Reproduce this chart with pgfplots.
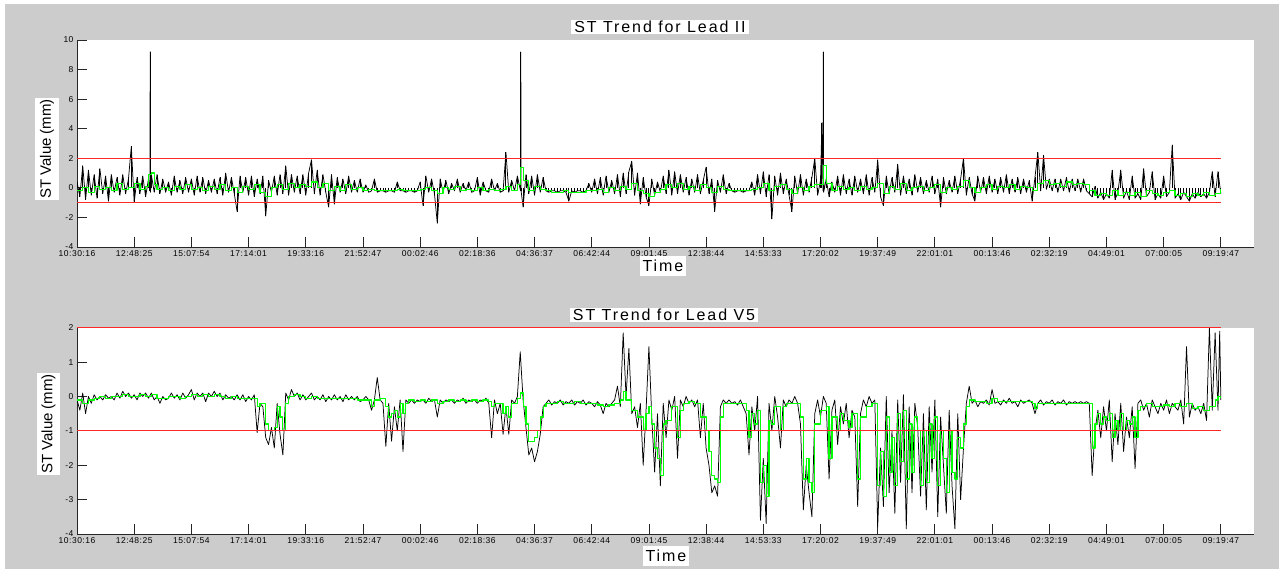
\documentclass[border=0pt]{standalone}
\usepackage{fontspec}
\setmainfont{Liberation Sans}
\newfontfamily\spacedfont[LetterSpace=12]{Liberation Sans}
\newfontfamily\tickfont[LetterSpace=6]{Liberation Sans}
\usepackage{pgfplots}
\usepackage{pgfplotstable}
\pgfplotsset{compat=1.18}
\definecolor{figgray}{RGB}{204,204,204}
\definecolor{stgreen}{RGB}{0,255,0}
\definecolor{stred}{RGB}{255,40,40}

% raw ST samples, Lead II
\pgfplotstableread[row sep=\\]{
x y\\
0.00 0.4\\ 0.05 -0.6\\ 0.10 1.5\\ 0.15 -0.8\\ 0.20 1.2\\ 0.25 -0.5\\ 0.30 0.9\\ 0.35 -0.7\\ 0.40 1.3\\ 0.45 -0.4\\
0.50 0.8\\ 0.55 -0.9\\ 0.60 0.9\\ 0.65 -0.3\\ 0.70 0.7\\ 0.75 -0.5\\ 0.80 0.9\\ 0.85 -0.4\\ 0.90 0.6\\ 0.95 2.8\\
1.00 -1.0\\ 1.05 0.7\\ 1.10 -0.4\\ 1.15 0.8\\ 1.20 -0.6\\ 1.25 0.6\\ 1.275 -0.2\\ 1.28 9.2\\ 1.285 -0.3\\ 1.30 0.9\\ 1.35 -0.3\\ 1.40 0.9\\ 1.45 -0.4\\
1.50 0.6\\ 1.55 -0.3\\ 1.60 0.4\\ 1.65 -0.5\\ 1.70 0.8\\ 1.75 -0.3\\ 1.80 0.5\\ 1.85 -0.4\\ 1.90 0.7\\ 1.95 -0.3\\
2.00 0.6\\ 2.05 -0.5\\ 2.10 0.8\\ 2.15 -0.3\\ 2.20 0.7\\ 2.25 -0.4\\ 2.30 0.5\\ 2.35 -0.3\\ 2.40 0.6\\ 2.45 -0.4\\
2.50 0.7\\ 2.55 -0.5\\ 2.60 1.0\\ 2.65 -0.3\\ 2.70 0.7\\ 2.75 -0.4\\ 2.80 -1.6\\ 2.85 0.8\\ 2.90 -0.3\\ 2.95 0.7\\
3.00 -0.5\\ 3.05 0.8\\ 3.10 -0.6\\ 3.15 0.6\\ 3.20 -0.4\\ 3.25 0.8\\ 3.30 -1.9\\ 3.35 0.5\\ 3.40 -0.3\\ 3.45 0.8\\
3.50 -0.5\\ 3.55 0.9\\ 3.60 -0.4\\ 3.65 1.5\\ 3.70 -0.5\\ 3.75 0.9\\ 3.80 -0.3\\ 3.85 0.8\\ 3.90 -0.4\\ 3.95 0.9\\
4.00 -0.5\\ 4.05 1.0\\ 4.10 1.9\\ 4.15 -0.4\\ 4.20 1.2\\ 4.25 -0.5\\ 4.30 0.9\\ 4.35 -0.3\\ 4.40 -1.3\\ 4.45 0.9\\
4.50 -1.1\\ 4.55 0.7\\ 4.60 -0.3\\ 4.65 0.6\\ 4.70 -0.4\\ 4.75 0.8\\ 4.80 -0.3\\ 4.85 0.5\\ 4.90 -0.3\\ 4.95 0.6\\
5.00 -0.3\\ 5.05 0.2\\ 5.10 -0.3\\ 5.15 -0.2\\ 5.20 0.6\\ 5.25 -0.3\\ 5.30 -0.2\\ 5.35 -0.2\\ 5.40 -0.3\\ 5.45 -0.2\\
5.50 -0.2\\ 5.55 -0.3\\ 5.60 0.4\\ 5.65 -0.2\\ 5.70 -0.2\\ 5.75 -0.3\\ 5.80 -0.2\\ 5.85 -0.2\\ 5.90 -0.3\\ 5.95 -0.2\\
6.00 0.4\\ 6.05 -1.2\\ 6.10 0.8\\ 6.15 -0.3\\ 6.20 0.6\\ 6.25 -0.4\\ 6.30 -2.4\\ 6.35 0.6\\ 6.40 -0.3\\ 6.45 0.5\\
6.50 -0.4\\ 6.55 0.3\\ 6.60 -0.2\\ 6.65 0.6\\ 6.70 -0.3\\ 6.75 0.3\\ 6.80 -0.2\\ 6.85 0.4\\ 6.90 -0.3\\ 6.95 -0.2\\
7.00 0.7\\ 7.05 -0.5\\ 7.10 0.4\\ 7.15 -0.2\\ 7.20 -0.3\\ 7.25 0.6\\ 7.30 -0.2\\ 7.35 0.3\\ 7.40 -0.3\\ 7.45 -0.2\\
7.50 2.4\\ 7.55 -0.3\\ 7.60 0.5\\ 7.65 -0.2\\ 7.70 0.8\\ 7.755 -0.2\\ 7.76 9.2\\ 7.765 -0.2\\ 7.80 -1.3\\ 7.85 0.9\\ 7.90 -0.4\\ 7.95 0.8\\
8.00 -0.5\\ 8.05 0.9\\ 8.10 -0.3\\ 8.15 0.7\\ 8.20 -0.2\\ 8.25 -0.3\\ 8.30 -0.2\\ 8.35 -0.2\\ 8.40 -0.3\\ 8.45 -0.2\\
8.50 -0.2\\ 8.55 -0.3\\ 8.60 -0.9\\ 8.65 -0.2\\ 8.70 -0.3\\ 8.75 -0.2\\ 8.80 -0.2\\ 8.85 -0.3\\ 8.90 -0.2\\ 8.95 0.3\\
9.00 -0.3\\ 9.05 0.6\\ 9.10 -0.4\\ 9.15 0.7\\ 9.20 -0.5\\ 9.25 0.8\\ 9.30 -0.3\\ 9.35 0.5\\ 9.40 -0.4\\ 9.45 0.9\\
9.50 -0.6\\ 9.55 1.0\\ 9.60 -0.4\\ 9.65 1.1\\ 9.70 1.8\\ 9.75 -0.5\\ 9.80 1.0\\ 9.85 -1.1\\ 9.90 0.7\\ 9.95 -0.6\\
10.00 -1.2\\ 10.05 0.6\\ 10.10 -0.5\\ 10.15 0.4\\ 10.20 -0.3\\ 10.25 0.8\\ 10.30 -0.4\\ 10.35 1.2\\ 10.40 -0.5\\ 10.45 1.1\\
10.50 -0.4\\ 10.55 0.9\\ 10.60 -0.3\\ 10.65 0.7\\ 10.70 -0.5\\ 10.75 0.6\\ 10.80 -0.3\\ 10.85 0.9\\ 10.90 -0.4\\ 10.95 0.5\\
11.00 1.4\\ 11.05 -0.4\\ 11.10 0.6\\ 11.15 -1.6\\ 11.20 0.5\\ 11.25 -0.3\\ 11.30 0.9\\ 11.35 -0.4\\ 11.40 0.3\\ 11.45 -0.2\\
11.50 -0.3\\ 11.55 -0.2\\ 11.60 -0.2\\ 11.65 -0.3\\ 11.70 -0.2\\ 11.75 -0.2\\ 11.80 0.4\\ 11.85 -0.5\\ 11.90 0.9\\ 11.95 -0.4\\
12.00 1.1\\ 12.05 -0.6\\ 12.10 0.9\\ 12.15 -2.1\\ 12.20 0.8\\ 12.25 -0.5\\ 12.30 1.0\\ 12.35 -0.4\\ 12.40 0.6\\ 12.45 -0.5\\
12.50 -1.6\\ 12.55 0.8\\ 12.60 -0.4\\ 12.65 0.9\\ 12.70 -0.5\\ 12.75 0.6\\ 12.80 -0.3\\ 12.85 0.7\\ 12.90 2.0\\ 12.95 -0.5\\
13.00 0.5\\ 13.025 4.4\\ 13.045 -0.2\\ 13.05 9.2\\ 13.055 -0.3\\ 13.10 0.6\\ 13.15 -0.6\\ 13.20 0.4\\ 13.25 -0.3\\ 13.30 0.8\\ 13.35 -0.5\\ 13.40 0.9\\ 13.45 -0.4\\
13.50 0.6\\ 13.55 -0.5\\ 13.60 0.8\\ 13.65 -0.3\\ 13.70 0.6\\ 13.75 -0.4\\ 13.80 0.9\\ 13.85 -0.5\\ 13.90 0.7\\ 13.95 -0.3\\
14.00 1.9\\ 14.05 -0.6\\ 14.10 -1.2\\ 14.15 0.8\\ 14.20 -0.4\\ 14.25 0.7\\ 14.30 -0.3\\ 14.35 1.6\\ 14.40 -0.5\\ 14.45 0.8\\
14.50 -0.4\\ 14.55 0.6\\ 14.60 -0.5\\ 14.65 0.9\\ 14.70 -0.3\\ 14.75 0.7\\ 14.80 -0.4\\ 14.85 0.5\\ 14.90 -0.3\\ 14.95 0.8\\
15.00 -0.4\\ 15.05 0.6\\ 15.10 -1.3\\ 15.15 0.7\\ 15.20 -0.4\\ 15.25 0.5\\ 15.30 -0.3\\ 15.35 0.8\\ 15.40 -0.4\\ 15.45 0.6\\
15.50 2.0\\ 15.55 -0.5\\ 15.60 0.7\\ 15.65 -0.4\\ 15.70 -0.9\\ 15.75 0.8\\ 15.80 -0.3\\ 15.85 0.7\\ 15.90 -0.4\\ 15.95 0.8\\
16.00 -0.3\\ 16.05 0.6\\ 16.10 -0.4\\ 16.15 0.7\\ 16.20 -0.3\\ 16.25 0.9\\ 16.30 -0.4\\ 16.35 0.6\\ 16.40 -0.3\\ 16.45 0.7\\
16.50 -0.4\\ 16.55 0.6\\ 16.60 -0.3\\ 16.65 0.5\\ 16.70 -0.9\\ 16.75 0.7\\ 16.80 2.4\\ 16.85 -0.2\\ 16.90 2.2\\ 16.95 -0.1\\
17.00 0.6\\ 17.05 -0.2\\ 17.10 0.6\\ 17.15 -0.3\\ 17.20 0.6\\ 17.25 -0.2\\ 17.30 0.7\\ 17.35 -0.3\\ 17.40 0.6\\ 17.45 -0.2\\
17.50 0.6\\ 17.55 -0.3\\ 17.60 0.6\\ 17.65 -0.2\\ 17.70 -0.4\\ 17.75 -0.6\\ 17.80 0.1\\ 17.85 -0.7\\ 17.90 -0.3\\ 17.95 -0.8\\
18.00 -0.4\\ 18.05 -0.7\\ 18.10 1.2\\ 18.15 -0.8\\ 18.20 -0.3\\ 18.25 1.2\\ 18.30 -0.7\\ 18.35 -0.2\\ 18.40 -0.8\\ 18.45 0.8\\
18.50 -0.7\\ 18.55 -0.4\\ 18.60 -0.8\\ 18.65 1.3\\ 18.70 -0.6\\ 18.75 -0.3\\ 18.80 1.1\\ 18.85 -0.8\\ 18.90 -0.4\\ 18.95 -0.7\\
19.00 0.8\\ 19.05 -0.6\\ 19.10 -0.3\\ 19.15 2.9\\ 19.20 -0.7\\ 19.25 -0.4\\ 19.30 -0.8\\ 19.35 -0.3\\ 19.40 -0.6\\ 19.45 -0.9\\
19.50 -0.4\\ 19.55 -0.7\\ 19.60 -0.3\\ 19.65 -0.6\\ 19.70 -0.4\\ 19.75 -0.7\\ 19.80 -0.3\\ 19.85 1.1\\ 19.90 -0.6\\ 19.95 1.1\\ 20.00 -0.4\\
}\leadIIraw

% raw ST samples, Lead V5
\pgfplotstableread[row sep=\\]{
x y\\
0.00 -0.1\\ 0.05 -0.4\\ 0.10 0.1\\ 0.15 -0.5\\ 0.20 0.0\\ 0.25 -0.2\\ 0.30 0.05\\ 0.35 -0.1\\ 0.40 0.0\\ 0.45 -0.1\\
0.50 0.05\\ 0.55 -0.05\\ 0.60 0.0\\ 0.65 -0.1\\ 0.70 0.1\\ 0.75 -0.05\\ 0.80 0.15\\ 0.85 0.0\\ 0.90 0.1\\ 0.95 -0.05\\
1.00 0.05\\ 1.05 -0.1\\ 1.10 0.1\\ 1.15 0.0\\ 1.20 0.1\\ 1.25 -0.05\\ 1.30 0.1\\ 1.35 -0.1\\ 1.40 0.0\\ 1.45 -0.2\\
1.50 0.0\\ 1.55 -0.1\\ 1.60 -0.05\\ 1.65 0.1\\ 1.70 -0.05\\ 1.75 0.05\\ 1.80 -0.1\\ 1.85 0.1\\ 1.90 -0.05\\ 1.95 0.05\\
2.00 0.2\\ 2.05 -0.1\\ 2.10 0.1\\ 2.15 0.0\\ 2.20 0.1\\ 2.25 -0.15\\ 2.30 0.1\\ 2.35 0.0\\ 2.40 0.15\\ 2.45 0.0\\
2.50 0.1\\ 2.55 -0.1\\ 2.60 0.05\\ 2.65 -0.05\\ 2.70 0.0\\ 2.75 -0.1\\ 2.80 0.05\\ 2.85 -0.1\\ 2.90 0.05\\ 2.95 -0.15\\
3.00 0.0\\ 3.05 -0.1\\ 3.10 0.05\\ 3.15 -1.05\\ 3.20 -0.2\\ 3.25 -0.3\\ 3.30 -1.2\\ 3.35 -1.4\\ 3.40 -0.9\\ 3.45 -1.5\\
3.50 -0.2\\ 3.55 -1.1\\ 3.60 -1.7\\ 3.65 0.1\\ 3.70 -0.1\\ 3.75 0.2\\ 3.80 0.0\\ 3.85 0.1\\ 3.90 -0.1\\ 3.95 0.05\\
4.00 -0.1\\ 4.05 0.0\\ 4.10 0.1\\ 4.15 -0.1\\ 4.20 0.0\\ 4.25 -0.1\\ 4.30 0.05\\ 4.35 -0.15\\ 4.40 0.0\\ 4.45 -0.1\\
4.50 0.05\\ 4.55 -0.1\\ 4.60 0.0\\ 4.65 -0.15\\ 4.70 0.05\\ 4.75 -0.1\\ 4.80 0.0\\ 4.85 -0.1\\ 4.90 0.0\\ 4.95 -0.15\\
5.00 -0.1\\ 5.05 0.0\\ 5.10 -0.1\\ 5.15 -0.4\\ 5.20 -0.1\\ 5.25 0.55\\ 5.30 -0.1\\ 5.35 -0.2\\ 5.40 -1.45\\ 5.45 -0.2\\
5.50 -1.3\\ 5.55 -0.3\\ 5.60 -1.0\\ 5.65 -0.1\\ 5.70 -1.6\\ 5.75 -0.1\\ 5.80 -0.2\\ 5.85 -0.1\\ 5.90 -0.2\\ 5.95 -0.1\\
6.00 -0.15\\ 6.05 -0.1\\ 6.10 -0.2\\ 6.15 -0.05\\ 6.20 -0.15\\ 6.25 -0.1\\ 6.30 -0.6\\ 6.35 -0.1\\ 6.40 -0.2\\ 6.45 -0.1\\
6.50 -0.15\\ 6.55 -0.1\\ 6.60 -0.2\\ 6.65 -0.1\\ 6.70 -0.15\\ 6.75 -0.05\\ 6.80 -0.2\\ 6.85 -0.1\\ 6.90 -0.15\\ 6.95 -0.1\\
7.00 -0.2\\ 7.05 -0.1\\ 7.10 -0.15\\ 7.15 -0.05\\ 7.20 -0.2\\ 7.25 -1.2\\ 7.30 -0.1\\ 7.35 -0.5\\ 7.40 -0.2\\ 7.45 -1.1\\
7.50 -0.3\\ 7.55 -1.1\\ 7.60 -0.1\\ 7.65 -0.2\\ 7.70 0.0\\ 7.75 1.3\\ 7.80 -0.1\\ 7.85 -0.9\\ 7.90 -1.7\\ 7.95 -1.5\\
8.00 -1.9\\ 8.05 -1.6\\ 8.10 -1.1\\ 8.15 -0.3\\ 8.20 -0.2\\ 8.25 -0.1\\ 8.30 -0.25\\ 8.35 -0.15\\ 8.40 -0.2\\ 8.45 -0.1\\
8.50 -0.25\\ 8.55 -0.15\\ 8.60 -0.2\\ 8.65 -0.1\\ 8.70 -0.25\\ 8.75 -0.15\\ 8.80 -0.2\\ 8.85 -0.1\\ 8.90 -0.25\\ 8.95 -0.15\\
9.00 -0.2\\ 9.05 -0.3\\ 9.10 -0.15\\ 9.15 -0.25\\ 9.20 -0.5\\ 9.25 -0.2\\ 9.30 -0.3\\ 9.35 -0.2\\ 9.40 -0.1\\ 9.45 0.3\\
9.50 -0.3\\ 9.55 1.85\\ 9.60 0.0\\ 9.65 1.4\\ 9.70 -0.5\\ 9.75 -0.3\\ 9.80 -0.9\\ 9.85 -0.2\\ 9.90 -2.0\\ 9.95 -0.4\\
10.00 1.45\\ 10.05 -0.6\\ 10.10 -2.2\\ 10.15 -0.5\\ 10.20 -2.6\\ 10.25 -0.2\\ 10.30 -1.2\\ 10.35 -0.1\\ 10.40 -0.4\\ 10.45 0.0\\
10.50 -1.8\\ 10.55 -0.1\\ 10.60 -0.3\\ 10.65 0.0\\ 10.70 -0.2\\ 10.75 -0.1\\ 10.80 -0.3\\ 10.85 -0.1\\ 10.90 -1.2\\ 10.95 -0.2\\
11.00 -1.5\\ 11.05 -2.0\\ 11.10 -2.8\\ 11.15 -2.6\\ 11.20 -2.9\\ 11.25 -0.3\\ 11.30 -0.1\\ 11.35 -0.2\\ 11.40 -0.1\\ 11.45 -0.2\\
11.50 -0.15\\ 11.55 -0.25\\ 11.60 -0.1\\ 11.65 -0.3\\ 11.70 -0.5\\ 11.75 -1.7\\ 11.80 -0.3\\ 11.85 -1.0\\ 11.90 0.0\\ 11.95 -3.6\\
12.00 -1.8\\ 12.05 -3.7\\ 12.10 -0.2\\ 12.15 -1.0\\ 12.20 0.0\\ 12.25 -0.6\\ 12.30 -1.5\\ 12.35 -0.1\\ 12.40 -0.3\\ 12.45 -0.1\\
12.50 -0.2\\ 12.55 0.0\\ 12.60 -0.2\\ 12.65 -0.8\\ 12.70 -3.3\\ 12.75 -2.0\\ 12.80 -2.8\\ 12.85 -3.5\\ 12.90 -0.5\\ 12.95 -0.1\\
13.00 -0.6\\ 13.05 0.0\\ 13.10 -0.2\\ 13.15 -2.4\\ 13.20 -0.4\\ 13.25 -0.1\\ 13.30 -1.4\\ 13.35 -0.3\\ 13.40 -0.8\\ 13.45 -0.2\\
13.50 -1.2\\ 13.55 -0.4\\ 13.60 -0.6\\ 13.65 -3.2\\ 13.70 -0.5\\ 13.75 -0.1\\ 13.80 -0.3\\ 13.85 0.0\\ 13.90 -0.2\\ 13.95 -0.1\\
14.00 -3.8\\ 14.05 -1.5\\ 14.10 -3.2\\ 14.15 0.0\\ 14.20 -2.8\\ 14.25 -1.0\\ 14.30 -3.4\\ 14.35 -0.1\\ 14.40 -2.5\\ 14.45 0.05\\
14.50 -3.85\\ 14.55 -0.3\\ 14.60 -2.8\\ 14.65 -0.2\\ 14.70 -0.9\\ 14.75 -2.9\\ 14.80 -0.5\\ 14.85 -3.3\\ 14.90 -0.3\\ 14.95 -2.2\\
15.00 -0.1\\ 15.05 -3.5\\ 15.10 -0.6\\ 15.15 -2.0\\ 15.20 -3.4\\ 15.25 -0.4\\ 15.30 -2.6\\ 15.35 -3.85\\ 15.40 -0.5\\ 15.45 -3.0\\
15.50 -1.5\\ 15.55 -0.2\\ 15.60 0.3\\ 15.65 -0.2\\ 15.70 -0.1\\ 15.75 -0.3\\ 15.80 -0.15\\ 15.85 -0.2\\ 15.90 -0.1\\ 15.95 -0.25\\
16.00 0.2\\ 16.05 -0.2\\ 16.10 -0.15\\ 16.15 -0.25\\ 16.20 -0.1\\ 16.25 -0.2\\ 16.30 -0.05\\ 16.35 -0.2\\ 16.40 -0.15\\ 16.45 -0.3\\
16.50 -0.1\\ 16.55 -0.2\\ 16.60 -0.15\\ 16.65 -0.1\\ 16.70 -0.2\\ 16.75 -0.5\\ 16.80 -0.2\\ 16.85 -0.1\\ 16.90 -0.25\\ 16.95 -0.15\\
17.00 -0.2\\ 17.05 -0.1\\ 17.10 -0.25\\ 17.15 -0.15\\ 17.20 -0.2\\ 17.25 -0.1\\ 17.30 -0.25\\ 17.35 -0.15\\ 17.40 -0.2\\ 17.45 -0.15\\
17.50 -0.2\\ 17.55 -0.15\\ 17.60 -0.2\\ 17.65 -0.15\\ 17.70 -0.2\\ 17.75 -2.3\\ 17.80 -1.0\\ 17.85 -0.4\\ 17.90 -1.2\\ 17.95 -0.3\\
18.00 -1.0\\ 18.05 -0.1\\ 18.10 -1.9\\ 18.15 -0.5\\ 18.20 -1.4\\ 18.25 -0.2\\ 18.30 -1.6\\ 18.35 -0.6\\ 18.40 -1.2\\ 18.45 -0.3\\
18.50 -2.1\\ 18.55 -0.2\\ 18.60 -0.1\\ 18.65 -0.4\\ 18.70 -0.2\\ 18.75 -0.6\\ 18.80 -0.1\\ 18.85 -0.3\\ 18.90 -0.5\\ 18.95 -0.2\\
19.00 -0.4\\ 19.05 -0.1\\ 19.10 -0.5\\ 19.15 -0.2\\ 19.20 -0.3\\ 19.25 -0.4\\ 19.30 -0.1\\ 19.35 -0.8\\ 19.40 1.45\\ 19.45 -0.6\\
19.50 -0.2\\ 19.55 -0.4\\ 19.60 -0.3\\ 19.65 -0.5\\ 19.70 -0.2\\ 19.75 -0.7\\ 19.80 2.0\\ 19.85 -0.4\\ 19.90 1.85\\ 19.95 -0.4\\ 19.98 1.9\\ 20.00 -0.1\\
}\leadVraw

\pgfplotsset{
  raw/.style={black, line width=0.75pt, line join=round},
  comb/.style={ycomb, black, line width=0.9pt},
  avg/.style={const plot, stgreen, line width=1.2pt, line join=round},
  limit/.style={stred, line width=0.8pt},
  stpanel/.style={
  anchor=south west, scale only axis, width=1177pt,
  xmin=0, xmax=20.58,
  axis x line*=bottom, axis y line*=left,
  axis line style={black!85, line width=0.8pt},
  axis background/.style={fill=white},
  xtick={0,1,...,20},
  xticklabels={10:30:16,12:48:25,15:07:54,17:14:01,19:33:16,21:52:47,00:02:46,02:18:36,04:36:37,06:42:44,09:01:45,12:38:44,14:53:33,17:20:02,19:37:49,22:01:01,00:13:46,02:32:19,04:49:01,07:00:05,09:19:47},
  tick align=inside, major tick length=10pt,
  tick style={black!85, line width=0.8pt},
  xticklabel style={font=\tickfont\fontsize{8.5}{10}\selectfont},
  yticklabel style={font=\tickfont\fontsize{8.5}{10}\selectfont},
  /pgf/number format/assume math mode=true,
}}

\begin{document}
\begin{tikzpicture}[x=1pt,y=1pt]
\fill[white] (0,0) rectangle (1279,569);
\fill[figgray] (5,0) rectangle (1279,565);

% ---------------- Lead II ----------------
\begin{axis}[stpanel, at={(77pt,322pt)}, height=207pt, ymin=-4, ymax=10, ytick={-4,-2,...,10}]
\addplot[comb] table {\leadIIraw};
\addplot[raw] table {\leadIIraw};
\addplot[avg] coordinates {
(0.0,-0.2)(0.1,0.0)(0.2,-0.3)(0.3,0.1)(0.4,-0.1)(0.5,0.0)(0.6,-0.2)(0.7,0.3)(0.8,-0.1)(0.9,0.0)
(1.0,0.3)(1.1,-0.1)(1.2,0.1)(1.25,0.9)(1.3,1.0)(1.35,0.2)(1.4,-0.1)(1.5,0.0)(1.6,-0.2)(1.7,0.1)(1.8,-0.1)(1.9,0.2)
(2.0,-0.1)(2.1,0.0)(2.2,-0.2)(2.3,0.1)(2.4,-0.1)(2.5,0.2)(2.6,-0.2)(2.7,0.0)(2.8,-0.3)(2.9,0.1)
(3.0,-0.1)(3.1,0.2)(3.2,-0.3)(3.3,-0.6)(3.4,0.0)(3.5,0.2)(3.6,-0.1)(3.7,0.3)(3.8,0.0)(3.9,0.2)
(4.0,0.1)(4.1,0.4)(4.2,0.0)(4.3,0.3)(4.4,-0.2)(4.5,0.1)(4.6,-0.2)(4.7,0.2)(4.8,-0.1)(4.9,0.0)
(5.0,-0.2)(5.1,-0.1)(5.2,-0.2)(5.3,-0.2)(5.4,-0.2)(5.5,-0.2)(5.6,-0.1)(5.7,-0.2)(5.8,-0.2)(5.9,-0.2)
(6.0,-0.1)(6.1,0.0)(6.2,-0.2)(6.3,-0.4)(6.4,0.0)(6.5,-0.1)(6.6,0.1)(6.7,-0.2)(6.8,-0.1)(6.9,-0.2)
(7.0,0.0)(7.1,-0.2)(7.2,-0.1)(7.3,-0.2)(7.4,-0.1)(7.5,0.1)(7.6,-0.2)(7.7,0.2)(7.75,1.4)(7.8,0.5)(7.9,-0.2)
(8.0,0.1)(8.1,-0.1)(8.2,-0.2)(8.3,-0.3)(8.4,-0.3)(8.5,-0.2)(8.6,-0.3)(8.7,-0.3)(8.8,-0.3)(8.9,-0.2)
(9.0,-0.2)(9.1,-0.1)(9.2,-0.3)(9.3,0.0)(9.4,-0.2)(9.5,0.1)(9.6,-0.1)(9.7,0.3)(9.8,-0.2)(9.9,-0.4)
(10.0,-0.6)(10.1,-0.3)(10.2,-0.1)(10.3,0.2)(10.4,0.0)(10.5,0.3)(10.6,-0.1)(10.7,0.1)(10.8,-0.2)(10.9,0.2)
(11.0,0.0)(11.1,-0.3)(11.2,0.1)(11.3,-0.1)(11.4,-0.2)(11.5,-0.2)(11.6,-0.2)(11.7,-0.2)(11.8,-0.1)(11.9,0.0)
(12.0,0.3)(12.1,-0.2)(12.2,0.1)(12.3,0.2)(12.4,-0.1)(12.5,-0.4)(12.6,0.0)(12.7,-0.2)(12.8,0.1)(12.9,0.2)
(13.0,0.2)(13.05,1.5)(13.1,0.3)(13.2,-0.2)(13.3,0.1)(13.4,-0.1)(13.5,0.0)(13.6,-0.2)(13.7,0.1)(13.8,-0.1)(13.9,0.0)
(14.0,0.3)(14.1,-0.4)(14.2,0.1)(14.3,-0.1)(14.4,0.3)(14.5,-0.2)(14.6,0.0)(14.7,0.1)(14.8,-0.2)(14.9,0.0)
(15.0,0.2)(15.1,-0.3)(15.2,0.0)(15.3,-0.1)(15.4,0.1)(15.5,0.5)(15.6,0.0)(15.7,-0.3)(15.8,0.0)(15.9,0.2)
(16.0,-0.1)(16.1,0.1)(16.2,0.0)(16.3,0.2)(16.4,-0.1)(16.5,0.1)(16.6,0.0)(16.7,-0.2)(16.8,0.3)(16.9,0.5)
(17.0,0.2)(17.1,0.3)(17.2,0.1)(17.3,0.4)(17.4,0.2)(17.5,0.3)(17.6,0.2)(17.7,-0.2)(17.8,-0.5)(17.9,-0.4)
(18.0,-0.5)(18.1,-0.2)(18.2,-0.5)(18.3,-0.3)(18.4,-0.5)(18.5,-0.3)(18.6,-0.6)(18.7,-0.2)(18.8,-0.4)(18.9,-0.5)
(19.0,-0.3)(19.1,-0.2)(19.2,-0.5)(19.3,-0.4)(19.4,-0.6)(19.5,-0.4)(19.6,-0.5)(19.7,-0.3)(19.8,-0.5)(19.9,-0.4)(20.0,-0.1)
};
\addplot[limit] coordinates {(0,2) (20,2)};
\addplot[limit] coordinates {(0,-1) (20,-1)};
\end{axis}

% ---------------- Lead V5 ----------------
\begin{axis}[stpanel, at={(77pt,35pt)}, height=206.3pt, ymin=-4, ymax=2, ytick={-4,-3,...,2}]
\addplot[raw] table {\leadVraw};
\addplot[avg] coordinates {
(0.0,-0.1)(0.1,-0.2)(0.2,-0.1)(0.3,-0.05)(0.4,0.0)(0.5,-0.05)(0.6,0.0)(0.7,0.0)(0.8,0.05)(0.9,0.0)
(1.0,0.0)(1.1,0.05)(1.2,0.0)(1.3,0.05)(1.4,-0.05)(1.5,-0.05)(1.6,0.0)(1.7,0.0)(1.8,-0.05)(1.9,0.0)
(2.0,0.05)(2.1,0.0)(2.2,0.05)(2.3,0.0)(2.4,0.05)(2.5,0.0)(2.6,-0.05)(2.7,0.0)(2.8,-0.05)(2.9,-0.05)
(3.0,-0.05)(3.1,-0.05)(3.15,-0.3)(3.2,-0.2)(3.25,-0.2)(3.3,-0.8)(3.35,-1.0)(3.4,-1.0)(3.45,-0.9)(3.5,-0.3)(3.55,-0.6)(3.6,-1.0)(3.65,-0.2)(3.7,0.0)(3.8,0.05)(3.9,0.0)
(4.0,-0.05)(4.1,0.0)(4.2,-0.05)(4.3,-0.05)(4.4,-0.05)(4.5,-0.05)(4.6,-0.05)(4.7,-0.05)(4.8,-0.05)(4.9,-0.1)
(5.0,-0.1)(5.1,-0.1)(5.15,-0.3)(5.2,-0.1)(5.3,-0.05)(5.4,-0.3)(5.45,-0.6)(5.5,-0.5)(5.55,-0.4)(5.6,-0.6)(5.65,-0.2)(5.7,-0.5)(5.75,-0.2)(5.8,-0.1)(5.9,-0.15)
(6.0,-0.1)(6.1,-0.15)(6.2,-0.1)(6.3,-0.2)(6.4,-0.15)(6.5,-0.1)(6.6,-0.15)(6.7,-0.1)(6.8,-0.15)(6.9,-0.1)
(7.0,-0.15)(7.1,-0.1)(7.2,-0.15)(7.25,-0.3)(7.3,-0.2)(7.4,-0.2)(7.45,-0.5)(7.5,-0.3)(7.55,-0.6)(7.6,-0.2)(7.7,-0.05)(7.75,0.1)(7.8,-0.3)(7.85,-0.8)(7.9,-1.3)(7.95,-1.3)
(8.0,-1.2)(8.05,-1.0)(8.1,-0.6)(8.15,-0.3)(8.2,-0.2)(8.3,-0.2)(8.4,-0.15)(8.5,-0.2)(8.6,-0.2)(8.7,-0.15)(8.8,-0.2)(8.9,-0.2)
(9.0,-0.2)(9.1,-0.25)(9.2,-0.3)(9.3,-0.25)(9.4,-0.2)(9.5,-0.1)(9.55,0.15)(9.6,-0.1)(9.7,-0.4)(9.8,-0.6)(9.9,-1.0)(9.95,-0.5)
(10.0,-0.3)(10.05,-0.8)(10.1,-1.5)(10.15,-1.8)(10.2,-2.3)(10.25,-0.8)(10.3,-0.7)(10.4,-0.3)(10.5,-1.2)(10.55,-0.4)(10.6,-0.2)(10.7,-0.15)(10.8,-0.2)(10.9,-0.6)
(11.0,-1.0)(11.05,-1.6)(11.1,-2.3)(11.15,-2.4)(11.2,-2.5)(11.25,-0.6)(11.3,-0.2)(11.4,-0.2)(11.5,-0.2)(11.6,-0.2)(11.7,-0.4)(11.75,-1.2)(11.8,-0.5)(11.85,-0.8)(11.9,-0.4)(11.95,-2.5)
(12.0,-2.0)(12.05,-2.9)(12.1,-0.7)(12.15,-0.8)(12.2,-0.3)(12.3,-1.0)(12.35,-0.3)(12.4,-0.2)(12.5,-0.2)(12.6,-0.2)(12.65,-0.6)(12.7,-2.4)(12.75,-1.8)(12.8,-2.5)(12.85,-2.8)(12.9,-0.8)
(13.0,-0.4)(13.1,-0.3)(13.15,-1.8)(13.2,-0.6)(13.3,-1.0)(13.35,-0.5)(13.4,-0.7)(13.5,-0.9)(13.55,-0.5)(13.6,-0.5)(13.65,-2.4)(13.7,-0.6)(13.8,-0.3)(13.9,-0.2)
(14.0,-2.6)(14.05,-1.6)(14.1,-2.9)(14.15,-0.6)(14.2,-2.2)(14.25,-1.2)(14.3,-2.6)(14.35,-0.5)(14.4,-1.9)(14.45,-0.4)(14.5,-2.4)(14.55,-0.8)(14.6,-2.2)(14.65,-0.6)(14.7,-1.0)(14.75,-2.6)(14.8,-1.0)(14.85,-2.5)(14.9,-0.8)(14.95,-1.8)
(15.0,-0.6)(15.05,-2.6)(15.1,-1.0)(15.15,-1.8)(15.2,-2.8)(15.25,-1.0)(15.3,-2.2)(15.35,-2.4)(15.4,-1.2)(15.45,-1.5)(15.5,-0.8)(15.55,-0.3)(15.6,-0.1)(15.7,-0.15)(15.8,-0.15)(15.9,-0.2)
(16.0,-0.05)(16.1,-0.15)(16.2,-0.15)(16.3,-0.15)(16.4,-0.15)(16.5,-0.15)(16.6,-0.15)(16.7,-0.2)(16.75,-0.35)(16.8,-0.2)(16.9,-0.2)
(17.0,-0.2)(17.1,-0.2)(17.2,-0.2)(17.3,-0.2)(17.4,-0.2)(17.5,-0.2)(17.6,-0.2)(17.7,-0.2)(17.75,-1.5)(17.8,-0.8)(17.85,-0.5)(17.9,-0.8)(17.95,-0.6)
(18.0,-0.7)(18.05,-0.5)(18.1,-1.2)(18.15,-0.7)(18.2,-1.0)(18.25,-0.5)(18.3,-1.0)(18.35,-0.7)(18.4,-0.8)(18.45,-0.6)(18.5,-1.2)(18.55,-0.4)(18.6,-0.3)(18.7,-0.2)(18.8,-0.3)(18.9,-0.3)
(19.0,-0.25)(19.1,-0.3)(19.2,-0.2)(19.3,-0.3)(19.4,-0.2)(19.5,-0.35)(19.6,-0.3)(19.7,-0.4)(19.8,-0.3)(19.9,-0.1)(19.95,0.0)(20.0,-0.05)
};
\addplot[limit] coordinates {(0,2) (20,2)};
\addplot[limit] coordinates {(0,-1) (20,-1)};
\end{axis}

% titles and axis labels on white boxes
\tikzset{lab/.style={fill=white, inner xsep=3pt, inner ysep=1.5pt}}
\node[lab, font=\spacedfont\fontsize{16}{16}\selectfont] at (660,542) {ST Trend for Lead II};
\node[lab, font=\spacedfont\fontsize{16}{16}\selectfont] at (664,254) {ST Trend for Lead V5};
\node[lab, inner ysep=4pt, font=\spacedfont\fontsize{16}{16}\selectfont] at (663,303) {Time};
\node[lab, inner ysep=4pt, font=\spacedfont\fontsize{16}{16}\selectfont] at (666,13) {Time};
\node[lab, rotate=90, inner xsep=1pt, inner ysep=5pt, font=\fontsize{15}{15}\selectfont] at (47,420) {ST Value (mm)};
\node[lab, rotate=90, inner xsep=1pt, inner ysep=5pt, font=\fontsize{15}{15}\selectfont] at (48.5,145) {ST Value (mm)};

\pgfresetboundingbox
\useasboundingbox (0,0) rectangle (1279,569);
\end{tikzpicture}
\end{document}
